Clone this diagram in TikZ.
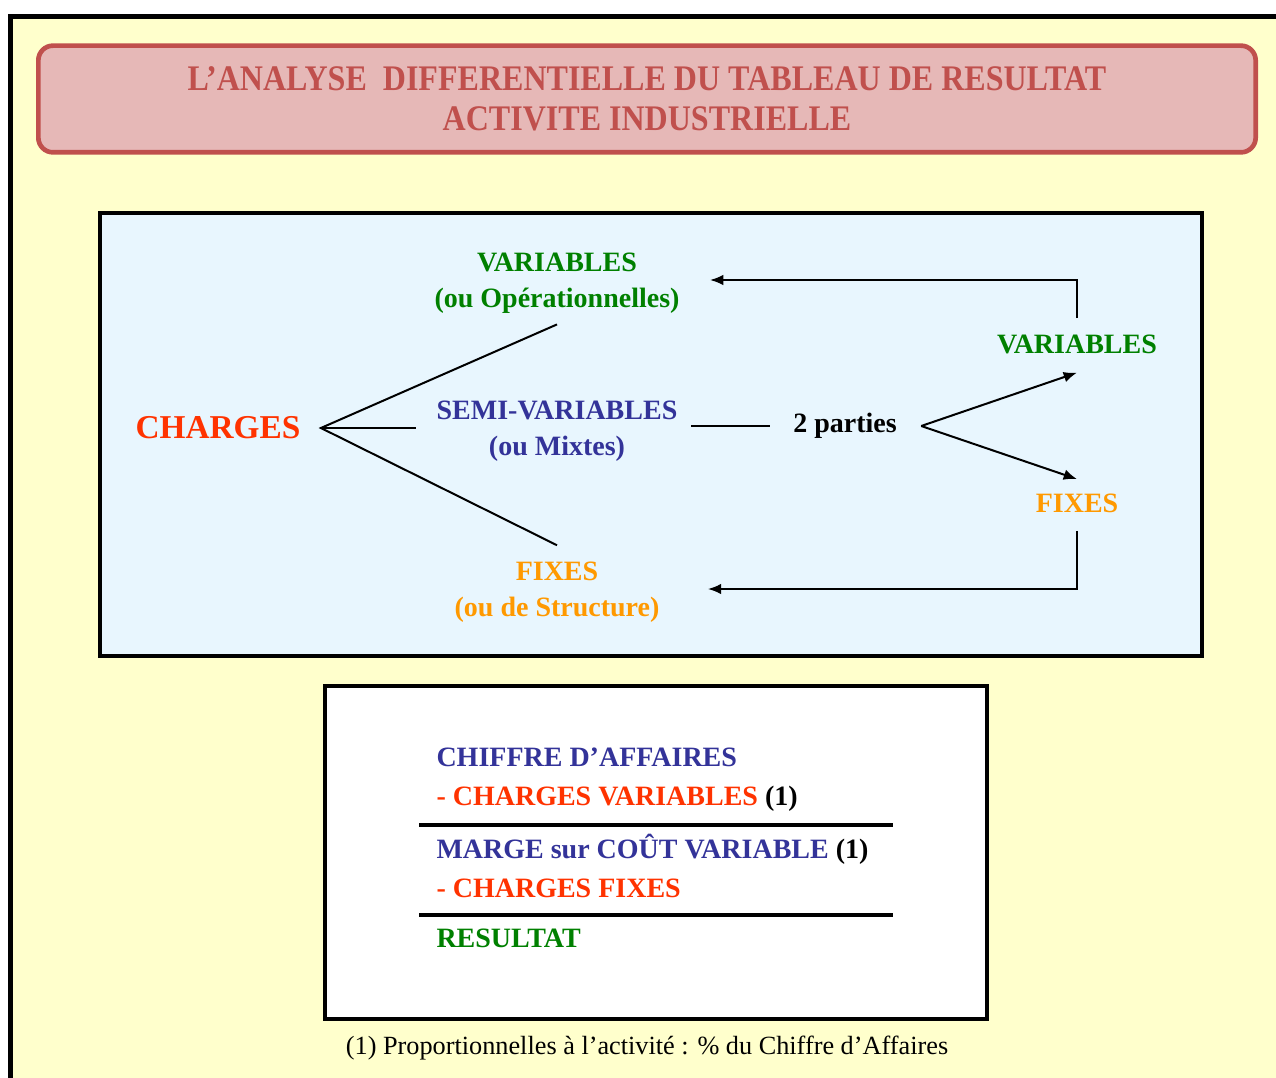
\documentclass[tikz,border=0pt]{standalone}
\usepackage{fontspec}
\setmainfont{Liberation Serif}
\newfontfamily\narrowserif{Liberation Serif}[FakeStretch=0.89]
\usetikzlibrary{arrows.meta}

\definecolor{fondjaune}{RGB}{255,255,204}
\definecolor{fondbleu}{RGB}{232,246,254}
\definecolor{titrefond}{RGB}{230,184,183}
\definecolor{titrerouge}{RGB}{192,80,77}
\definecolor{vert}{RGB}{0,128,0}
\definecolor{bleu}{RGB}{51,51,153}
\definecolor{rouge}{RGB}{255,51,0}
\definecolor{orangefixe}{RGB}{255,153,0}

\tikzset{every picture/.style={line width=0.75pt}}
\tikzset{
  lbl/.style={inner sep=0pt, align=center, font=\fontsize{21}{27}\selectfont\bfseries},
  ligne/.style={line width=1.5pt},
  fleche/.style={line width=1.5pt, -{Latex[length=10pt,width=8pt]}},
  cadre/.style={line width=3pt},
  compte/.style={inner sep=0pt, anchor=west, font=\fontsize{21}{24}\selectfont\bfseries},
}

\begin{document}
\begin{tikzpicture}[x=0.75pt,y=0.75pt,yscale=-1,xscale=1]
	\useasboundingbox (0,0) rectangle (1276,1077);
	\fill[white] (0,0) rectangle (1276,1077);

	%Shape: Rectangle [fond]
	\draw[line width=3.75pt, fill=fondjaune] (10.5,16.5) rectangle (1300,1100);

	% Title
	\node[draw=titrerouge, line width=3.5pt, fill=titrefond, rounded corners=11pt, minimum width=913pt, minimum height=80pt, text=titrerouge, align=center, font=\narrowserif\bfseries\fontsize{27}{30}\selectfont] (titre) at (647,99) {L’ANALYSE\ \ DIFFERENTIELLE DU TABLEAU DE RESULTAT\\ACTIVITE INDUSTRIELLE};

	%Shape: Rectangle [charges]
	\draw[cadre, fill=fondbleu] (100,213) rectangle (1202,656);

	% Text Nodes
	\node[lbl, text=rouge, font=\fontsize{25}{30}\selectfont\bfseries] (charges) at (218,428) {CHARGES};
	\node[lbl, text=vert] (varop) at (557,283) {VARIABLES\\(ou Opérationnelles)};
	\node[lbl, text=bleu] (semi) at (557,431) {SEMI-VARIABLES\\(ou Mixtes)};
	\node[lbl, text=orangefixe] (fixes) at (557,592) {FIXES\\(ou de Structure)};
	\node[lbl] (parties) at (845,426) {2 parties};
	\node[lbl, text=vert] (varR) at (1077,344) {VARIABLES};
	\node[lbl, text=orangefixe] (fixR) at (1077,503) {FIXES};

	% Lines
	\draw[ligne] ([yshift=8pt]varop.south) -- ([xshift=15pt]charges.east) -- ([yshift=-12pt]fixes.north);
	\draw[ligne] ([xshift=15pt]charges.east) -- ([xshift=-15pt]semi.west |- charges.east);
	\draw[line width=1pt] ([xshift=10pt]semi.east |- parties.west) -- ([xshift=-17pt]parties.west);
	\draw[fleche] ([xshift=18pt]parties.east) -- ([yshift=14pt]varR.south);
	\draw[fleche] ([xshift=18pt]parties.east) -- ([yshift=-10.5pt]fixR.north);
	\draw[fleche] ([yshift=-12pt]varR.north) |- ([xshift=22.5pt,yshift=-2.25pt]varop.east);
	\draw[fleche] ([yshift=13.5pt]fixR.south) |- ([xshift=36pt,yshift=-2.25pt]fixes.east);

	%Shape: Rectangle [compte]
	\draw[cadre, fill=white] (325,686) rectangle (987,1019);

	\node[compte, text=bleu] (ca) at (436,757) {CHIFFRE D’AFFAIRES};
	\node[compte, text=rouge] (cv) at (436,799) {- CHARGES VARIABLES \textcolor{black}{(1)}};
	\draw[line width=3pt] (419,825) -- (893,825);
	\node[compte, text=bleu] (mcv) at (436,849) {MARGE sur COÛT VARIABLE \textcolor{black}{(1)}};
	\node[compte, text=rouge] (cf) at (436,888) {- CHARGES FIXES};
	\draw[line width=3pt] (419,915) -- (893,915);
	\node[compte, text=vert] (res) at (436,938) {RESULTAT};

	% Note
	\node[inner sep=0pt, font=\fontsize{19.7}{22}\selectfont] (note) at (647,1048) {(1) Proportionnelles à l'activité : \% du Chiffre d'Affaires};

\end{tikzpicture}
\end{document}
